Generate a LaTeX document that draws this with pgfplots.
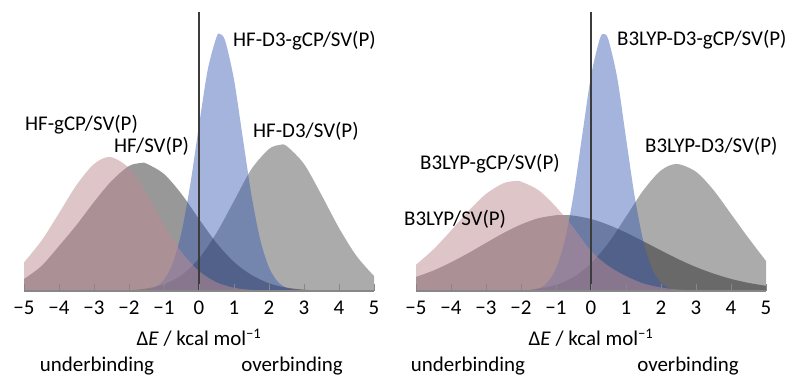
\documentclass[border=0pt]{standalone}
\usepackage{pgfplots}
\pgfplotsset{compat=1.18}
\usepackage{fontspec}
\setmainfont{Carlito}
\definecolor{pinkc}{RGB}{190,140,146}
\definecolor{darkc}{RGB}{26,26,26}
\definecolor{grayc}{RGB}{171,171,171}
\definecolor{bluec}{RGB}{53,89,178}
\definecolor{axisgray}{RGB}{135,135,135}
\definecolor{vline}{RGB}{60,60,60}
\pgfplotsset{
  panel/.style={
    anchor=south west, scale only axis, width=350bp, height=279bp,
    xmin=-5, xmax=5, ymin=0, ymax=279,
    axis x line=bottom, axis y line=none,
    x axis line style={-, draw=axisgray, line width=1.4bp},
    xtick={-5,-4,-3,-2,-1,0,1,2,3,4,5},
    xticklabels={−5,−4,−3,−2,−1,0,1,2,3,4,5},
    xtick align=inside, major tick length=7bp,
    tick style={draw=axisgray, line width=1bp},
    xticklabel style={font=\fontsize{21}{25}\selectfont, inner sep=0pt, anchor=north, yshift=-10bp},
    axis on top=true,
  },
  grayfill/.style={draw=none, fill=grayc, smooth},
  darkfill/.style={draw=none, fill=darkc, fill opacity=0.45, smooth},
  bluefill/.style={draw=none, fill=bluec, fill opacity=0.45, smooth},
  pinkfill/.style={draw=none, fill=pinkc, fill opacity=0.5, smooth},
  vlinest/.style={draw=vline, line width=1.2bp},
}
\begin{document}
\begin{tikzpicture}
\useasboundingbox (0,0) rectangle (794bp,380bp);
% ---------------- left panel ----------------
\begin{axis}[panel, at={(24bp,89bp)}]
\addplot[grayfill] coordinates {(-2.5,0) (-2,0.8) (-1.5,2.5) (-1,6.7) (-0.5,15.8) (0,32.5) (0.5,58) (1,90) (1.5,122) (2,142) (2.3,146) (2.5,145) (3,127) (3.5,96) (4,63) (4.5,35) (5,15)} \closedcycle;
\addplot[darkfill] coordinates {(-5,12) (-4.5,25) (-4,45) (-3.5,66) (-3,89) (-2.5,110) (-2,125) (-1.65,128) (-1.5,127.4) (-1,117) (-0.5,97) (0,72) (0.5,48) (1,29) (1.5,16) (2,7.7) (2.5,3.4) (3,1.3) (3.5,0.4) (4,0)} \closedcycle;
\addplot[bluefill] coordinates {(-2,0) (-1.5,1.2) (-1.25,3.9) (-1,11.3) (-0.75,27.8) (-0.5,58.7) (-0.25,106.4) (0,165.6) (0.25,221.3) (0.5,253.9) (0.6,257) (0.75,250) (1,211.4) (1.25,153.4) (1.5,95.6) (1.75,51.1) (2,23.5) (2.25,9.3) (2.5,3.1) (2.75,0.9) (3,0.2) (3.5,0)} \closedcycle;
\addplot[pinkfill] coordinates {(-5,28.6) (-4.5,50.3) (-4,77.8) (-3.5,105.9) (-3,127) (-2.54,134) (-2,122.9) (-1.5,97.3) (-1,66.4) (-0.5,39.1) (0,19.9) (0.5,8.7) (1,3.3) (1.5,1.1) (2,0.3) (3,0)} \closedcycle;
\addplot[vlinest] coordinates {(0,0) (0,279)};
\end{axis}
% ---------------- right panel ----------------
\begin{axis}[panel, at={(416bp,89bp)}]
\addplot[grayfill] coordinates {(-2,0) (-1.5,2.4) (-1,6.1) (-0.5,13.8) (0,27.5) (0.5,48.1) (1,74.3) (1.5,100.9) (2,120.6) (2.45,127) (3,119.2) (3.5,100.9) (4,77) (4.5,52.9) (5,30)} \closedcycle;
\addplot[darkfill] coordinates {(-5,14.1) (-4.5,20.5) (-4,28.7) (-3.5,38) (-3,48.1) (-2.5,58) (-2,66.5) (-1.5,72.8) (-1,75.8) (-0.83,76) (-0.5,75.4) (0,72) (0.5,66.1) (1,58.4) (1.5,49.6) (2,40.5) (2.5,31.7) (3,23.9) (3.5,17.4) (4,12.1) (4.5,8.1) (5,5.2)} \closedcycle;
\addplot[bluefill] coordinates {(-2,0) (-1.5,2.7) (-1.25,8.5) (-1,22.4) (-0.75,50.3) (-0.5,96) (-0.25,156) (0,215) (0.25,252) (0.37,257) (0.5,251) (0.75,213) (1,153) (1.25,94) (1.5,49) (1.75,21.6) (2,8.1) (2.25,2.6) (2.5,0.7) (3,0)} \closedcycle;
\addplot[pinkfill] coordinates {(-5,26.3) (-4.5,41.7) (-4,60.4) (-3.5,80) (-3,97.1) (-2.5,107.8) (-2.16,110) (-2,109.4) (-1.5,100.8) (-1,84.1) (-0.5,63.4) (0,40) (0.5,25) (1,14.9) (1.5,7.5) (2,3.5) (2.5,1.4) (3,0.5) (3.5,0)} \closedcycle;
\addplot[vlinest] coordinates {(0,0) (0,279)};
\end{axis}
% ---------------- labels ----------------
\begin{scope}[every node/.style={font=\fontsize{21}{25}\selectfont, inner sep=0pt}]
\node[anchor=base west] at (233bp,333.5bp) {HF-D3-gCP/SV(P)};
\node[anchor=base west] at (25bp,249.5bp) {HF-gCP/SV(P)};
\node[anchor=base west] at (114bp,227.5bp) {HF/SV(P)};
\node[anchor=base west] at (253bp,242.5bp) {HF-D3/SV(P)};
\node[anchor=base west] at (617bp,334bp) {B3LYP-D3-gCP/SV(P)};
\node[anchor=base west] at (645bp,227.5bp) {B3LYP-D3/SV(P)};
\node[anchor=base west] at (420bp,210.5bp) {B3LYP-gCP/SV(P)};
\node[anchor=base west] at (404bp,154.5bp) {B3LYP/SV(P)};
\node[anchor=base] at (199bp,34.5bp) {Δ\textit{E} / kcal mol\textsuperscript{−1}};
\node[anchor=base] at (591bp,34.5bp) {Δ\textit{E} / kcal mol\textsuperscript{−1}};
\node[anchor=base] at (97bp,8.4bp) {underbinding};
\node[anchor=base] at (292bp,8.4bp) {overbinding};
\node[anchor=base] at (468bp,8.4bp) {underbinding};
\node[anchor=base] at (688bp,8.4bp) {overbinding};
\end{scope}
\end{tikzpicture}
\end{document}
